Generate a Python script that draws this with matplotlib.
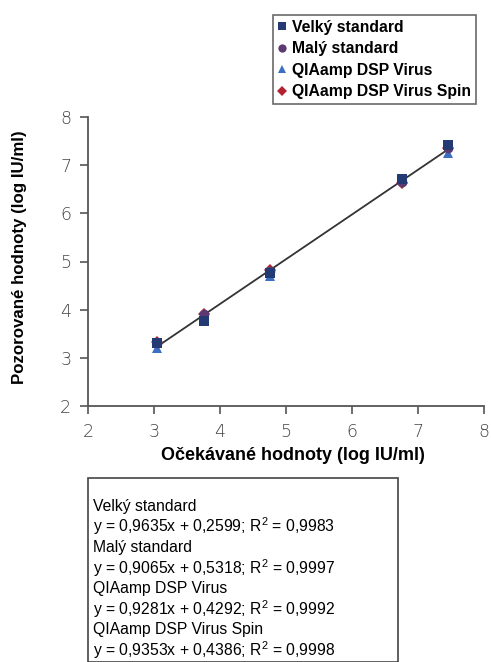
import numpy as np
import matplotlib
matplotlib.use("Agg")
import matplotlib.pyplot as plt
import matplotlib.patches as patches

plt.rcParams['font.family'] = ['Liberation Sans', 'DejaVu Sans']
plt.rcParams['mathtext.fontset'] = 'custom'
plt.rcParams['mathtext.rm'] = 'Liberation Sans'

### DATA

expected = [3.05, 3.75, 4.75, 6.75, 7.45]

velky = [3.30, 3.77, 4.76, 6.71, 7.42]
maly = [3.31, 3.90, 4.80, 6.66, 7.36]
dsp = [3.20, 3.86, 4.70, 6.69, 7.25]
spin = [3.32, 3.92, 4.83, 6.62, 7.35]

series_names = ["Velký standard", "Malý standard", "QIAamp DSP Virus", "QIAamp DSP Virus Spin"]
equations = ["y = 0,9635x + 0,2599; R$^2$ = 0,9983",
             "y = 0,9065x + 0,5318; R$^2$ = 0,9997",
             "y = 0,9281x + 0,4292; R$^2$ = 0,9992",
             "y = 0,9353x + 0,4386; R$^2$ = 0,9998"]

xticks = [2, 3, 4, 5, 6, 7, 8]
yticks = [2, 3, 4, 5, 6, 7, 8]

### PLOT

W, H = 491, 662
fig = plt.figure(figsize=(W / 100, H / 100), dpi=100)
ax = fig.add_axes([88 / W, 1 - 406 / H, (484 - 88) / W, (406 - 117) / H])

# trend line over all points
allx = np.array(expected * 4)
ally = np.array(velky + maly + dsp + spin)
k, q = np.polyfit(allx, ally, 1)
xs = np.array([expected[0], expected[-1]])
ax.plot(xs, k * xs + q, color='#333333', lw=1.3, zorder=1)

styles = [
    (spin, 'D', '#b22230', 6.5),
    (dsp, '^', '#3a6fc4', 6.5),
    (maly, 'o', '#5b3a72', 7),
    (velky, 's', '#233a73', 7),
]
labels = [series_names[3], series_names[2], series_names[1], series_names[0]]
handles = {}
for (vals, m, c, s), lab in zip(styles, labels):
    h, = ax.plot(expected, vals, linestyle='none', marker=m, color=c,
                 markersize=s, markeredgewidth=0, label=lab, zorder=3)
    handles[lab] = h

ax.set_xlim(2, 8)
ax.set_ylim(2, 8)
ax.set_xticks(xticks)
ax.set_yticks(yticks)
for side in ['top', 'right']:
    ax.spines[side].set_visible(False)
for side in ['left', 'bottom']:
    ax.spines[side].set_color('#555555')
    ax.spines[side].set_linewidth(1.3)
ax.tick_params(direction='out', length=6, width=1.2, color='#555555',
               labelsize=12.5, labelcolor='#444444', pad=6)
for t in ax.get_xticklabels() + ax.get_yticklabels():
    t.set_fontfamily('DejaVu Sans')
    t.set_fontweight('light')

fig.text(293 / W, 1 - 455 / H, "Očekávané hodnoty (log IU/ml)", ha='center', va='center',
         fontsize=13, fontweight='bold')
fig.text(20 / W, 1 - 257 / H, "Pozorované hodnoty (log IU/ml)", ha='center', va='center',
         rotation=90, fontsize=12.2, fontweight='bold')

leg = fig.legend([handles[n] for n in series_names], series_names,
                 loc='upper left', bbox_to_anchor=(273 / W, 1 - 15 / H),
                 frameon=True, fancybox=False, edgecolor='#444444',
                 prop={'weight': 'bold', 'size': 11.3},
                 handlelength=0.6, handletextpad=0.3, borderpad=0.3,
                 labelspacing=0.42, borderaxespad=0, markerscale=0.85)
leg.get_frame().set_linewidth(1.2)

# equation box
fig.patches.append(patches.Rectangle((88 / W, 0), (398 - 88) / W, (H - 485) / H + 0.01,
                                     transform=fig.transFigure, facecolor='white',
                                     edgecolor='#444444', lw=1.2, clip_on=True))
lines = []
for n, e in zip(series_names, equations):
    lines += [n, e]
y0 = 506
for i, ln in enumerate(lines):
    fig.text(93 / W, 1 - (y0 + i * 20.6) / H, ln, ha='left', va='center', fontsize=11.3)

fig.savefig("out.png", dpi=100)
